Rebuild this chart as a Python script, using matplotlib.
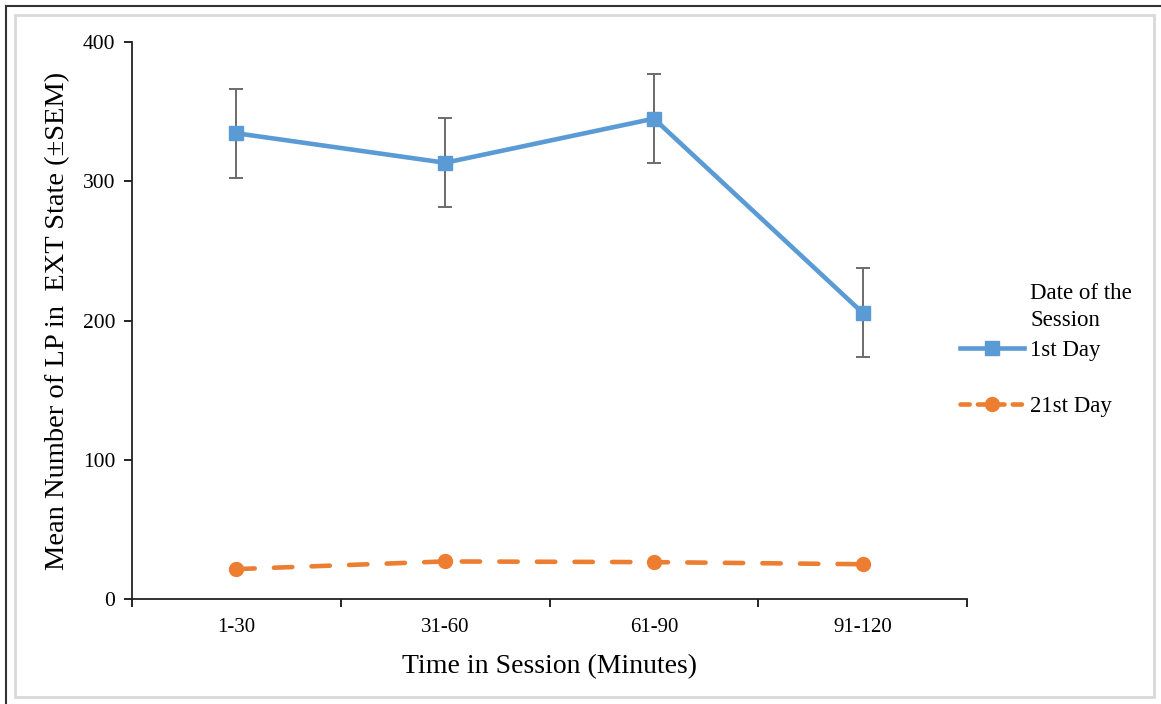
import matplotlib
matplotlib.use("Agg")
import matplotlib.pyplot as plt
from matplotlib.lines import Line2D
from matplotlib.patches import Rectangle

categories = ["1-30", "31-60", "61-90", "91-120"]
day1_mean = [334.5, 313.3, 345.0, 205.5]
day1_sem = [32.0, 32.0, 32.0, 32.0]
day21_mean = [21.5, 27.0, 26.5, 25.0]

BLUE = "#5B9BD5"
ORANGE = "#ED7D31"

plt.rcParams["font.family"] = ["Liberation Serif", "DejaVu Serif"]

fig = plt.figure(figsize=(11.61, 7.04), dpi=100)
ax = fig.add_axes([0.1137, 0.1491, 0.7193, 0.7912])

x = list(range(len(categories)))

ax.errorbar(x, day1_mean, yerr=day1_sem, color=BLUE, lw=3.3, marker="s",
            markersize=9.5, ecolor="#6b6b6b", elinewidth=1.4, capsize=5,
            capthick=1.4, zorder=3)
ax.plot(x, day21_mean, color=ORANGE, lw=3.3, ls=(0, (4.0, 4.2)),
        dash_capstyle="round", marker="o", markersize=10, zorder=3)

ax.set_xlim(-0.5, 3.5)
ax.set_ylim(0, 400)
ax.set_yticks([0, 100, 200, 300, 400])
ax.set_xticks([-0.5, 0.5, 1.5, 2.5, 3.5])
ax.set_xticklabels([])
ax.set_xticks(x, minor=True)
ax.set_xticklabels(categories, minor=True)
ax.tick_params(axis="x", which="minor", length=0, pad=14, labelsize=15)
ax.tick_params(axis="x", which="major", length=6, width=1.2, direction="out")
ax.tick_params(axis="y", length=6, width=1.2, direction="out", labelsize=15.5, pad=6)

for side in ["top", "right"]:
    ax.spines[side].set_visible(False)
for side in ["left", "bottom"]:
    ax.spines[side].set_linewidth(1.3)
    ax.spines[side].set_color("#222222")

ax.set_xlabel("Time in Session (Minutes)", fontsize=20, labelpad=12)
ax.set_ylabel("Mean Number of LP in  EXT State (\u00b1SEM)", fontsize=20.5, labelpad=9)

# legend
handles = [
    Line2D([], [], color=BLUE, lw=3.3, marker="s", markersize=9.5),
    Line2D([], [], color=ORANGE, lw=3.3, ls=(0, (2.0, 1.8)),
           dash_capstyle="round", marker="o", markersize=10),
]
fig.legend(handles, ["1st Day", "21st Day"], loc="upper left",
           bbox_to_anchor=(0.827, 0.517), frameon=False, fontsize=16.5,
           handlelength=2.8, handletextpad=0.25, labelspacing=1.52,
           borderpad=0, borderaxespad=0)
fig.text(1030 / 1161, 1 - 307 / 704, "Date of the\nSession", fontsize=16.5,
         ha="left", va="center", linespacing=1.4)

# outer frames
fig.add_artist(Rectangle((15 / 1161, 1 - 697 / 704), (1154 - 15) / 1161,
                         (697 - 15) / 704, transform=fig.transFigure,
                         fill=False, edgecolor="#d9d9d9", lw=2))
fig.add_artist(Line2D([6 / 1161, 6 / 1161], [0, 1 - 6 / 704],
                      transform=fig.transFigure, color="#333333", lw=1.5))
fig.add_artist(Line2D([6 / 1161, 1], [1 - 6 / 704, 1 - 6 / 704],
                      transform=fig.transFigure, color="#333333", lw=1.5))

fig.savefig("out.png", dpi=100)
